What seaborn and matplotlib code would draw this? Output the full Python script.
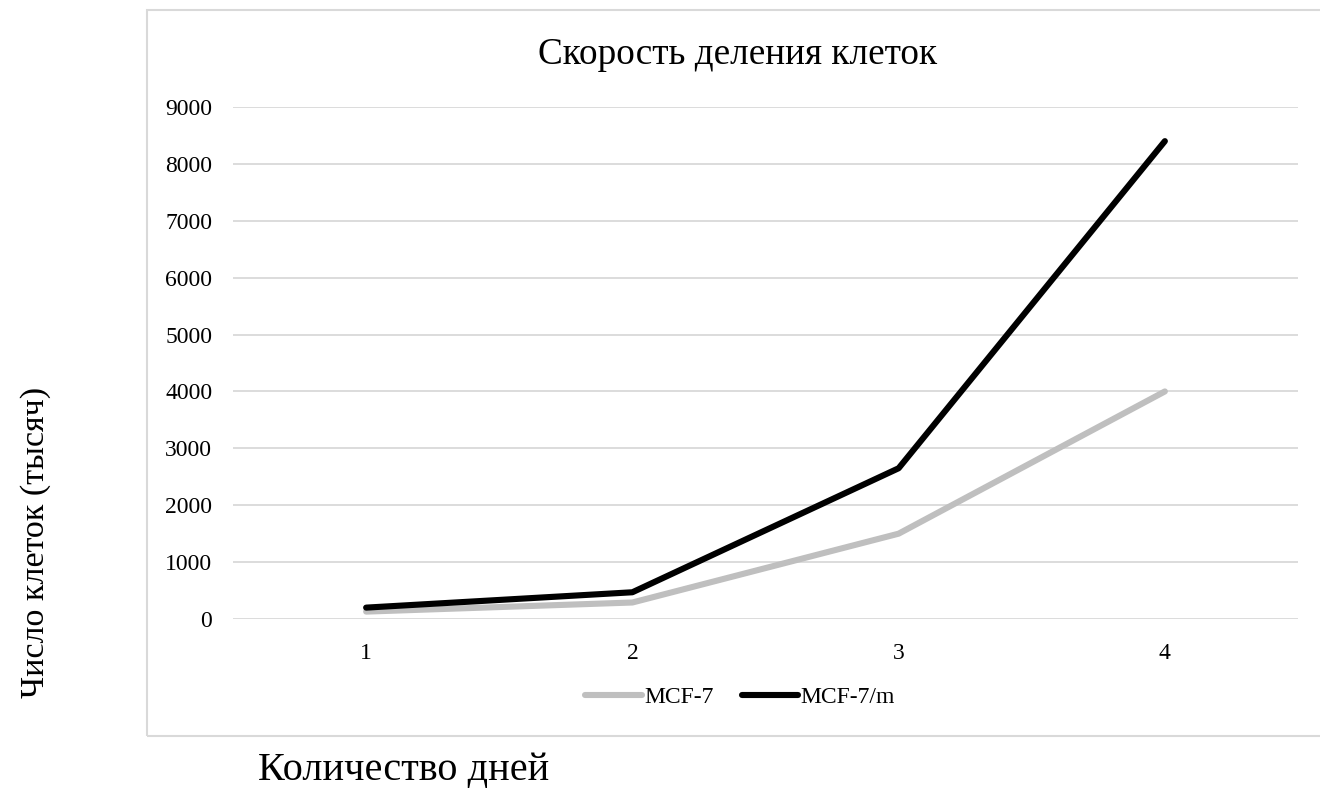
import matplotlib
matplotlib.use("Agg")
import matplotlib.pyplot as plt
from matplotlib.patches import Rectangle
import seaborn as sns
import pandas as pd

days = [1, 2, 3, 4]
mcf7 = [130, 290, 1500, 4000]
mcf7m = [200, 470, 2650, 8400]
series_names = ["MCF-7", "MCF-7/m"]
y_ticks = [0, 1000, 2000, 3000, 4000, 5000, 6000, 7000, 8000, 9000]

df = pd.DataFrame({
    "day": days * 2,
    "cells": mcf7 + mcf7m,
    "line": [series_names[0]] * len(days) + [series_names[1]] * len(days),
})

sns.set_theme(style="white")
plt.rcParams["font.family"] = ["Liberation Serif", "DejaVu Serif"]
plt.rcParams["text.color"] = "black"

W, H = 1320, 798
fig = plt.figure(figsize=(W / 100, H / 100), dpi=100)

# chart-area frame
fig.patches.append(Rectangle((147 / W, 1 - 736 / H), (1330 - 147) / W, (736 - 10) / H,
                             transform=fig.transFigure, facecolor="none",
                             edgecolor="#d9d9d9", linewidth=1.5, zorder=-1))

ax = fig.add_axes([233 / W, 1 - 619 / H, (1298 - 233) / W, (619 - 107) / H])
ax.set_facecolor("none")

sns.lineplot(data=df, x="day", y="cells", hue="line",
             palette={series_names[0]: "#bfbfbf", series_names[1]: "#000000"},
             linewidth=4.4, ax=ax, legend=False, solid_capstyle="round",
             solid_joinstyle="round")

ax.set_xlim(0.5, 4.5)
ax.set_ylim(0, 9000)
ax.set_xticks(days)
ax.set_yticks(y_ticks)
ax.tick_params(axis="both", length=0, labelsize=17, colors="#000000")
ax.tick_params(axis="x", pad=17)
ax.tick_params(axis="y", pad=15)
ax.grid(axis="y", color="#d9d9d9", linewidth=1.3)
ax.set_axisbelow(True)
for s in ax.spines.values():
    s.set_visible(False)
ax.set_xlabel("")
ax.set_ylabel("")

fig.text(738 / W, 1 - 55 / H, "Скорость деления клеток", ha="center", va="center",
         fontsize=26.8)

handles = [plt.Line2D([], [], color=c, linewidth=4.4, solid_capstyle="round")
           for c in ["#bfbfbf", "#000000"]]
fig.legend(handles, series_names, loc="center", bbox_to_anchor=(740 / W, 1 - 697 / H),
           ncol=2, frameon=False, fontsize=17, handlelength=2.4, handletextpad=0.1,
           columnspacing=1.2)

fig.text(36 / W, 1 - 542 / H, "Число клеток (тысяч)", rotation=90, ha="center",
         va="center", fontsize=24.5)
fig.text(258 / W, 1 - 770 / H, "Количество дней", ha="left", va="center",
         fontsize=29)

fig.savefig("out.png", dpi=100)
